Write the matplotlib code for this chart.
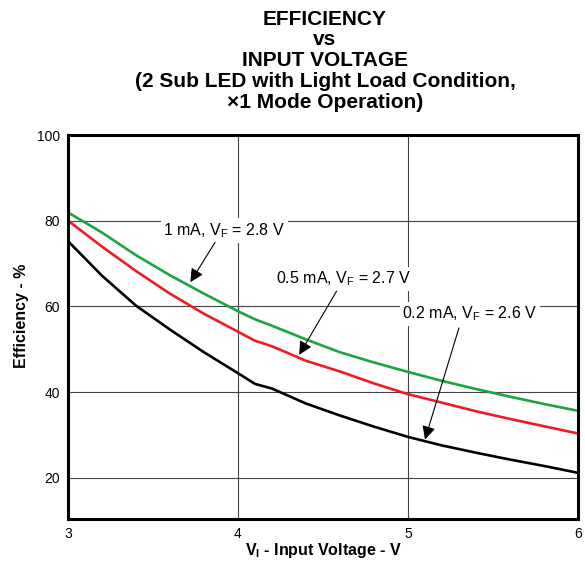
import matplotlib.pyplot as plt

plt.rcParams['font.family'] = ['Liberation Sans', 'DejaVu Sans']

# data
vin = [3.0, 3.2, 3.4, 3.6, 3.8, 4.0, 4.1, 4.2, 4.4, 4.6, 4.8, 5.0, 5.2, 5.4, 5.6, 5.8, 6.0]
eff_1ma = [82.0, 77.3, 72.0, 67.3, 63.0, 58.9, 57.0, 55.5, 52.3, 49.3, 46.9, 44.7, 42.6, 40.7, 38.9, 37.2, 35.6]
eff_05ma = [80.1, 74.0, 68.3, 63.0, 58.3, 54.1, 52.0, 50.7, 47.3, 44.8, 42.0, 39.5, 37.5, 35.5, 33.7, 32.0, 30.3]
eff_02ma = [75.3, 67.2, 60.2, 54.6, 49.3, 44.4, 41.9, 40.8, 37.3, 34.5, 31.9, 29.5, 27.5, 25.8, 24.2, 22.7, 21.1]

labels = ['1 mA, V$_\\mathregular{F}$ = 2.8 V',
          '0.5 mA, V$_\\mathregular{F}$ = 2.7 V',
          '0.2 mA, V$_\\mathregular{F}$ = 2.6 V']
label_pos = [(3.92, 76.7), (4.62, 65.4), (5.365, 57.2)]
arrow_tail = [(3.865, 75.0), (4.58, 63.6), (5.30, 55.0)]
arrow_tip = [(3.72, 65.7), (4.36, 48.7), (5.10, 28.9)]

fig = plt.figure(figsize=(5.85, 5.61), dpi=100)
ax = fig.add_axes([0.1162, 0.0749, 0.8718, 0.6836])

ax.plot(vin, eff_1ma, color='#1ca344', lw=1.9, solid_joinstyle='round')
ax.plot(vin, eff_05ma, color='#ee1c25', lw=1.9, solid_joinstyle='round')
ax.plot(vin, eff_02ma, color='black', lw=1.9, solid_joinstyle='round')

ax.set_xlim(3, 6)
ax.set_ylim(10.3, 100)
ax.set_xticks([3, 4, 5, 6])
ax.set_yticks([20, 40, 60, 80, 100])
ax.tick_params(length=0, labelsize=10, pad=6)
ax.grid(True, color='#444444', lw=0.8)
ax.set_axisbelow(True)
for s in ax.spines.values():
    s.set_linewidth(2.2)

for (lx, ly), txt, (tx, ty), (hx, hy) in zip(label_pos, labels, arrow_tail, arrow_tip):
    ax.text(lx, ly, txt, ha='center', va='baseline', fontsize=11.5,
            bbox=dict(facecolor='white', edgecolor='none', pad=2))
    ax.annotate('', xy=(hx, hy), xytext=(tx, ty),
                arrowprops=dict(arrowstyle='-|>', color='black', lw=0.8,
                                mutation_scale=20, shrinkA=0, shrinkB=0))

ax.set_xlabel('V$_\\mathregular{I}$ - Input Voltage - V', fontsize=11.5, fontweight='bold', labelpad=0)
ax.set_ylabel('Efficiency - %', fontsize=11.5, fontweight='bold')
ax.yaxis.set_label_coords(-0.076, 0.53)

fig.text(0.5556, 0.983, 'EFFICIENCY\nvs\nINPUT VOLTAGE\n(2 Sub LED with Light Load Condition,\n\u00d71 Mode Operation)',
         ha='center', va='top', fontsize=15, fontweight='bold', linespacing=1.13)

fig.savefig('out.png', dpi=100)
